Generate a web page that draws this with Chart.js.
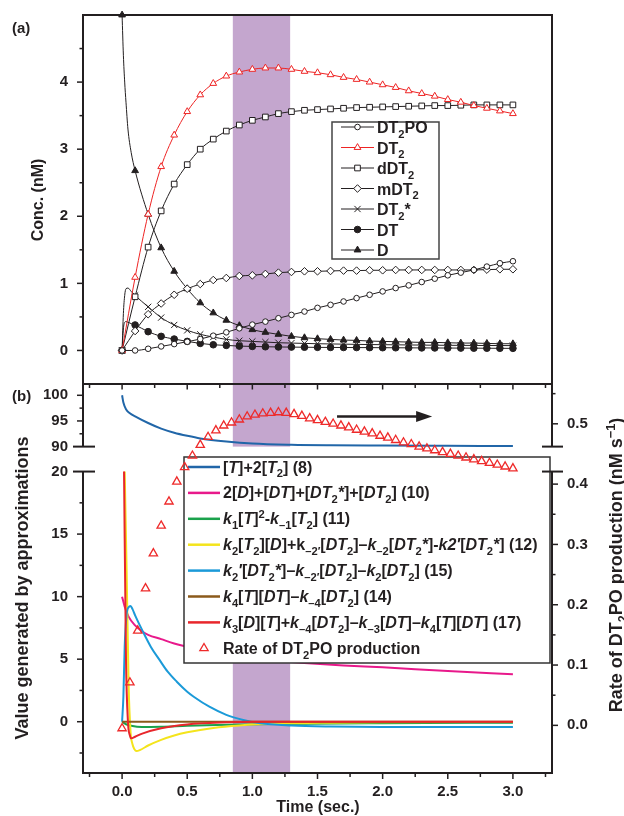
<!DOCTYPE html>
<html><head><meta charset="utf-8">
<script src="https://cdn.jsdelivr.net/npm/chart.js@4.4.1/dist/chart.umd.min.js"></script>
<style>
html,body{margin:0;padding:0;background:#fff;}
#wrap{position:relative;width:624px;height:816px;background:#fff;}
canvas{position:absolute;left:0;top:0;width:624px;height:816px;}
</style></head>
<body><div id="wrap"><canvas id="ca" width="624" height="816"></canvas><canvas id="cb" width="624" height="816"></canvas></div>
<script>
const FONT='"Liberation Sans", Arial, Helvetica, sans-serif';
const INK='#231f20';
const BAND='#c4a6ce';
Chart.defaults.font.family=FONT;

// ---------- panel (a) data ----------
const timeA=[0,0.1,0.2,0.3,0.4,0.5,0.6,0.7,0.8,0.9,1.0,1.1,1.2,1.3,1.4,1.5,1.6,1.7,1.8,1.9,2.0,2.1,2.2,2.3,2.4,2.5,2.6,2.7,2.8,2.9,3.0];
const dt2po=[0,0.0,0.025,0.06,0.095,0.13,0.17,0.22,0.27,0.33,0.385,0.43,0.48,0.53,0.58,0.635,0.68,0.73,0.78,0.83,0.88,0.93,0.97,1.02,1.07,1.12,1.16,1.20,1.25,1.30,1.33];
const dt2=[0,1.09,2.03,2.74,3.21,3.56,3.81,3.98,4.09,4.15,4.19,4.21,4.21,4.19,4.16,4.14,4.11,4.07,4.04,4.00,3.96,3.92,3.87,3.83,3.79,3.74,3.70,3.65,3.61,3.57,3.53];
const ddt2=[0,0.80,1.54,2.08,2.48,2.77,3.00,3.15,3.27,3.36,3.43,3.48,3.53,3.56,3.58,3.59,3.60,3.61,3.62,3.625,3.63,3.635,3.64,3.645,3.65,3.65,3.655,3.66,3.66,3.66,3.66];
const mdt2=[0,0.29,0.54,0.70,0.83,0.92,0.99,1.05,1.08,1.11,1.12,1.14,1.16,1.17,1.18,1.18,1.185,1.19,1.19,1.195,1.195,1.2,1.2,1.2,1.2,1.2,1.2,1.2,1.205,1.21,1.21];
const dt2star=[0,0.82,0.65,0.49,0.38,0.30,0.24,0.20,0.165,0.145,0.135,0.125,0.115,0.11,0.105,0.10,0.097,0.094,0.091,0.088,0.086,0.084,0.082,0.08,0.078,0.077,0.076,0.075,0.074,0.073,0.072];
const dt=[0,0.38,0.28,0.21,0.17,0.135,0.105,0.085,0.075,0.065,0.06,0.055,0.052,0.05,0.048,0.046,0.045,0.044,0.043,0.042,0.041,0.04,0.039,0.038,0.037,0.036,0.035,0.034,0.033,0.032,0.031];
const dConc=[5.0,2.68,2.03,1.53,1.18,0.92,0.71,0.56,0.45,0.37,0.31,0.27,0.24,0.21,0.19,0.175,0.165,0.155,0.15,0.14,0.135,0.13,0.125,0.12,0.12,0.115,0.11,0.11,0.105,0.10,0.10];
// extra early-time samples (curve only, no markers)
const timeEarly=[0.01,0.02,0.03,0.045,0.07];
const dEarly=[4.4,4.0,3.7,3.3,2.95];
const dt2starEarly=[0.55,0.82,0.92,0.93,0.88];
const dtEarly=[0.32,0.42,0.43,0.42,0.40];
const concTicks=[0,1,2,3,4];
const namesA=['DT_{2}PO','DT_{2}','dDT_{2}','mDT_{2}','DT_{2}*','DT','D'];

// ---------- panel (b) data ----------
const tBlue=[0,0.01,0.03,0.06,0.1,0.2,0.3,0.4,0.5,0.6,0.8,1.0,1.3,1.6,2.0,2.5,3.0];
const vBlue=[100,98.6,97.3,96.5,95.9,94.6,93.5,92.7,92.1,91.6,91.0,90.6,90.35,90.25,90.2,90.15,90.1];
const tMag=[0,0.02,0.05,0.1,0.15,0.2,0.3,0.4,0.5,0.6,0.8,1.0,1.2,1.4,1.7,2.0,2.5,3.0];
const vMag=[10,9.2,8.4,7.7,7.25,6.95,6.6,6.25,6.0,5.75,5.35,5.0,4.85,4.7,4.5,4.35,4.05,3.8];
const tGreen=[0,0.03,0.08,0.15,0.3,0.5,0.8,1.2,2.0,3.0];
const vGreen=[0,-0.2,-0.35,-0.42,-0.4,-0.33,-0.25,-0.18,-0.12,-0.08];
const tYellow=[0.02,0.035,0.05,0.065,0.08,0.095,0.11,0.14,0.2,0.3,0.4,0.5,0.7,0.9,1.2,1.6,2.0,3.0];
const vYellow=[20,12,3,-0.8,-1.8,-2.2,-2.35,-2.25,-1.9,-1.45,-1.1,-0.85,-0.5,-0.3,-0.15,-0.08,-0.05,-0.02];
const tLblue=[0,0.01,0.02,0.035,0.05,0.065,0.08,0.1,0.16,0.22,0.29,0.35,0.42,0.5,0.55,0.67,0.8,0.93,1.06,1.3,1.6,2.0,2.5,3.0];
const vLblue=[0,2,6,8.6,9.15,9.25,9.0,8.5,7.2,6.0,4.9,4.0,3.2,2.4,2.0,1.2,0.55,0.14,-0.13,-0.3,-0.38,-0.42,-0.43,-0.43];
const tBrown=[0,1,2,3];
const vBrown=[0,0,0,0];
const tRed=[0.015,0.03,0.045,0.06,0.07,0.1,0.16,0.3,0.5,0.8,1.0,1.5,2.0,3.0];
const vRed=[20,5,0,-1.1,-1.33,-1.2,-0.93,-0.52,-0.22,-0.05,0,0,0,0];
const tRate=[0,0.06,0.12,0.18,0.24,0.3,0.36,0.42,0.48,0.54,0.6,0.66,0.72,0.78,0.84,0.9,0.96,1.02,1.08,1.14,1.2,1.26,1.32,1.38,1.44,1.5,1.56,1.62,1.68,1.74,1.8,1.86,1.92,1.98,2.04,2.1,2.16,2.22,2.28,2.34,2.4,2.46,2.52,2.58,2.64,2.7,2.76,2.82,2.88,2.94,3.0];
const vRate=[-0.005,0.071,0.157,0.227,0.285,0.331,0.371,0.404,0.428,0.447,0.465,0.478,0.489,0.497,0.502,0.507,0.512,0.515,0.517,0.518,0.519,0.518,0.516,0.513,0.509,0.506,0.503,0.500,0.497,0.494,0.490,0.487,0.484,0.480,0.477,0.473,0.469,0.466,0.462,0.459,0.456,0.453,0.450,0.447,0.444,0.441,0.438,0.435,0.432,0.429,0.426];
const timeTicks=[0,0.5,1.0,1.5,2.0,2.5,3.0];
const upperTicks=[90,95,100];
const lowerTicks=[0,5,10,15,20];
const rateTicks=[0,0.1,0.2,0.3,0.4,0.5];
const namesB=['[|T|]+2[|T|_{2}] (8)','2[|D|]+[|DT|]+[|DT|_{2}|*|]+[|DT|_{2}] (10)','|k|_{1}[|T|]^{2}-|k|_{\u20131}[|T|_{2}] (11)','|k|_{2}[|T|_{2}][|D|]+k_{\u20132\u2032}[|DT|_{2}]\u2013|k|_{\u20132}[|DT|_{2}|*|]-|k2\u2032|[|DT|_{2}|*|] (12)','|k|_{2}|\u2032|[|DT|_{2}|*|]\u2013|k|_{\u20132\u2032}[|DT|_{2}]\u2013|k|_{2}[|DT|_{2}] (15)','|k|_{4}[|T|][|DT|]\u2013|k|_{\u20134}[|DT|_{2}] (14)','|k|_{3}[|D|][|T|]+|k|_{\u20134}[|DT|_{2}]\u2013|k|_{\u20133}[|DT|]\u2013|k|_{4}[|T|][|DT|] (17)','Rate of DT_{2}PO production'];
const bandStart=0.85, bandEnd=1.29;

// ---------- rich text helpers ----------
function parseRich(s){
  const segs=[];let it=false,mode=0,buf='';
  const push=()=>{if(buf){segs.push({t:buf,it:it,mode:mode});buf='';}};
  for(let i=0;i<s.length;i++){
    const c=s[i];
    if(c==='|'){push();it=!it;continue;}
    if((c==='_'||c==='^')&&s[i+1]==='{'){push();mode=c==='_'?1:2;i++;continue;}
    if(c==='}'&&mode){push();mode=0;continue;}
    buf+=c;
  }
  push();return segs;
}
function segFont(s,size){const sz=s.mode?size*0.7:size;return (s.it?'italic ':'')+'bold '+sz.toFixed(2)+'px '+FONT;}
function richWidth(ctx,segs,size){let w=0;for(const s of segs){ctx.font=segFont(s,size);w+=ctx.measureText(s.t).width;}return w;}
function drawRich(ctx,str,x,y,size,opt){
  opt=opt||{};
  const segs=parseRich(str);const w=richWidth(ctx,segs,size);
  let sx=1;if(opt.maxW&&w>opt.maxW)sx=opt.maxW/w;
  ctx.save();ctx.translate(x,y);if(opt.rot)ctx.rotate(opt.rot);ctx.scale(sx,1);
  let cx=opt.align==='center'?-w/2:0;
  ctx.fillStyle=opt.color||INK;ctx.textBaseline='alphabetic';ctx.textAlign='left';
  for(const s of segs){ctx.font=segFont(s,size);const dy=s.mode===1?size*0.3:(s.mode===2?-size*0.38:0);ctx.fillText(s.t,cx,dy);cx+=ctx.measureText(s.t).width;}
  ctx.restore();
}
function seg(ctx,x1,y1,x2,y2){ctx.beginPath();ctx.moveTo(x1,y1);ctx.lineTo(x2,y2);ctx.stroke();}

// ---------- panel (a) chart ----------
const styleA=[
 {ps:'circle',r:2.8,fill:'#fff',col:INK},
 {ps:'triangle',r:3.9,fill:'#fff',col:'#ee2424'},
 {ps:'rect',r:4.0,fill:'#fff',col:INK},
 {ps:'rectRot',r:3.8,fill:'#fff',col:INK},
 {ps:'crossRot',r:4.4,fill:INK,col:INK},
 {ps:'circle',r:3.3,fill:INK,col:INK},
 {ps:'triangle',r:3.9,fill:INK,col:INK}
];
const valsA=[dt2po,dt2,ddt2,mdt2,dt2star,dt,dConc];
const earlyA=[null,null,null,null,dt2starEarly,dtEarly,dEarly];
function buildPts(times,vals,et,ev){
  const p=times.map((t,i)=>({x:t,y:vals[i],m:1}));
  if(ev)et.forEach((t,i)=>p.push({x:t,y:ev[i],m:0}));
  p.sort((a,b)=>a.x-b.x);return p;
}
const dsA=valsA.map((v,i)=>({
  label:namesA[i],data:buildPts(timeA,v,timeEarly,earlyA[i]),
  borderColor:styleA[i].col,backgroundColor:styleA[i].fill,borderWidth:1,
  pointStyle:styleA[i].ps,pointRadius:c=>(c.raw&&c.raw.m)?styleA[i].r:0,
  pointBorderColor:styleA[i].col,pointBackgroundColor:styleA[i].fill,pointBorderWidth:1,
  cubicInterpolationMode:'monotone',clip:false
}));

const pluginA={id:'pa',
  beforeDatasetsDraw(chart){
    const {ctx,chartArea:a,scales:{x}}=chart;
    const x0=x.getPixelForValue(bandStart),x1=x.getPixelForValue(bandEnd);
    ctx.save();ctx.fillStyle=BAND;ctx.fillRect(x0,a.top,x1-x0,a.bottom-a.top);ctx.restore();
  },
  afterDraw(chart){
    const {ctx,chartArea:a,scales:{y}}=chart;
    ctx.save();ctx.strokeStyle=INK;ctx.lineWidth=2;
    ctx.strokeRect(a.left,a.top,a.right-a.left,a.bottom-a.top);
    ctx.lineWidth=1.5;
    for(let v=0;v<=4.5;v+=0.5){const py=y.getPixelForValue(v);const maj=Math.abs(v-Math.round(v))<1e-6;seg(ctx,a.left,py,a.left-(maj?6:3.5),py);}
    // legend
    const bx=332,by=122,bw=107,bh=137;
    ctx.fillStyle='#fff';ctx.fillRect(bx,by,bw,bh);ctx.strokeStyle='#444';ctx.lineWidth=1.5;ctx.strokeRect(bx,by,bw,bh);
    for(let i=0;i<namesA.length;i++){
      const ly=127+i*20.5,st=styleA[i];
      ctx.strokeStyle=st.col;ctx.lineWidth=1;seg(ctx,341,ly,374,ly);
      ctx.fillStyle=st.fill;ctx.strokeStyle=st.col;ctx.lineWidth=1;
      Chart.helpers.drawPoint(ctx,{pointStyle:st.ps,radius:st.r,rotation:0,borderWidth:1},357.5,ly);
      drawRich(ctx,namesA[i],377,ly+6,16);
    }
    drawRich(ctx,'(a)',12,33,15);
    drawRich(ctx,'Conc. (nM)',43,200,16,{rot:-Math.PI/2,align:'center'});
    ctx.restore();
  }
};

new Chart(document.getElementById('ca'),{
  type:'line',data:{datasets:dsA},
  options:{responsive:false,animation:false,devicePixelRatio:1,parsing:true,
    layout:{padding:{left:0,right:72,top:15,bottom:432}},
    plugins:{legend:{display:false},tooltip:{enabled:false}},
    scales:{
      x:{type:'linear',min:-0.3,max:3.3,display:false},
      y:{type:'linear',min:-0.5,max:5,grid:{display:false,drawTicks:true,tickLength:15},border:{display:false},
        afterFit:s=>{s.width=83;},
        afterBuildTicks:s=>{s.ticks=concTicks.map(v=>({value:v}));},
        ticks:{padding:0,color:INK,font:{size:15,weight:'bold',family:FONT},callback:v=>String(v)}}
    }
  },plugins:[pluginA]
});

// ---------- panel (b) chart ----------
const linesB=[
  {t:tBlue,v:vBlue,c:'#2166a8',ax:'yTop'},
  {t:tMag,v:vMag,c:'#e8198b',ax:'yBot'},
  {t:tGreen,v:vGreen,c:'#1ba24c',ax:'yBot'},
  {t:tYellow,v:vYellow,c:'#f4e41c',ax:'yBot'},
  {t:tLblue,v:vLblue,c:'#1b9ad8',ax:'yBot'},
  {t:tBrown,v:vBrown,c:'#8b5a1b',ax:'yBot'},
  {t:tRed,v:vRed,c:'#e8262b',ax:'yBot'}
];
const RATE_COL='#ee2a2a';
const dsB=[{label:'rate',data:tRate.map((t,i)=>({x:t,y:vRate[i]})),yAxisID:'yR',showLine:false,
  pointStyle:'triangle',pointRadius:4.8,pointBorderColor:RATE_COL,pointBackgroundColor:'rgba(255,255,255,0)',pointBorderWidth:1.3,borderColor:RATE_COL}];
for(let i=linesB.length-1;i>=0;i--){
  const L=linesB[i];
  dsB.push({label:'l'+i,data:L.t.map((t,j)=>({x:t,y:L.v[j]})),yAxisID:L.ax,borderColor:L.c,borderWidth:2,pointRadius:0,cubicInterpolationMode:'monotone'});
}

const pluginB={id:'pb',
  beforeDatasetsDraw(chart){
    const {ctx,chartArea:a,scales:{x,yTop,yBot}}=chart;
    const x0=x.getPixelForValue(bandStart),x1=x.getPixelForValue(bandEnd);
    const y90=yTop.getPixelForValue(90),y20=yBot.getPixelForValue(20);
    ctx.save();ctx.fillStyle=BAND;
    ctx.fillRect(x0,a.top,x1-x0,y90-a.top);
    ctx.fillRect(x0,y20,x1-x0,a.bottom-y20);
    ctx.restore();
  },
  beforeDatasetDraw(chart,args){
    if(args.index!==0)return;
    const ctx=chart.ctx;
    const bx=184,by=457,bw=366,bh=206;
    ctx.save();ctx.fillStyle='#fff';ctx.fillRect(bx,by,bw,bh);
    ctx.strokeStyle='#333';ctx.lineWidth=1.5;ctx.strokeRect(bx,by,bw,bh);
    for(let i=0;i<namesB.length;i++){
      const ly=467+i*25.9;
      if(i<linesB.length){ctx.strokeStyle=linesB[i].c;ctx.lineWidth=2.5;seg(ctx,188,ly,220,ly);}
      else{ctx.strokeStyle=RATE_COL;ctx.fillStyle='rgba(255,255,255,0)';ctx.lineWidth=1.3;
        Chart.helpers.drawPoint(ctx,{pointStyle:'triangle',radius:4.8,rotation:0,borderWidth:1.3},204,ly);}
      drawRich(ctx,namesB[i],223,ly+5.5,16,{maxW:325});
    }
    ctx.restore();
  },
  afterDraw(chart){
    const {ctx,chartArea:a,scales:{x,yTop,yBot,yR}}=chart;
    const y90=yTop.getPixelForValue(90),y20=yBot.getPixelForValue(20);
    ctx.save();ctx.strokeStyle=INK;ctx.lineWidth=2;
    seg(ctx,a.left,a.top,a.left,y90);seg(ctx,a.left,y20,a.left,a.bottom+1);
    seg(ctx,a.right,a.top,a.right,y90);seg(ctx,a.right,y20,a.right,a.bottom+1);
    seg(ctx,a.left-1,a.bottom,a.right+1,a.bottom);
    seg(ctx,a.left-1,a.top,a.right+1,a.top);
    [y90,y20].forEach(py=>{seg(ctx,a.left-10,py,a.left+12,py);seg(ctx,a.right-10,py,a.right+11,py);});
    ctx.lineWidth=1.5;
    // x ticks: top (panel a axis) and bottom
    for(let v=-0.25;v<=3.26;v+=0.25){const px=x.getPixelForValue(v);const maj=Math.abs(v*2-Math.round(v*2))<1e-6;
      seg(ctx,px,a.top,px,a.top+(maj?5.5:4));seg(ctx,px,a.bottom,px,a.bottom+(maj?6:4));}
    // left ticks
    for(let v=92.5;v<=100.01;v+=2.5){const py=yTop.getPixelForValue(v);const maj=Math.abs(v/5-Math.round(v/5))<1e-6;seg(ctx,a.left,py,a.left-(maj?6:3.5),py);}
    for(let v=-2.5;v<=17.51;v+=2.5){const py=yBot.getPixelForValue(v);const maj=Math.abs(v/5-Math.round(v/5))<1e-6;seg(ctx,a.left,py,a.left-(maj?6:3.5),py);}
    // right ticks
    for(let k=0;k<=11;k++){const v=k*0.05;const py=yR.getPixelForValue(v);if(py>y90-2&&py<y20+2)continue;seg(ctx,a.right,py,a.right+(k%2===0?6:3.5),py);}
    // upper axis labels
    ctx.fillStyle=INK;ctx.font='bold 15px '+FONT;ctx.textAlign='right';ctx.textBaseline='middle';
    upperTicks.forEach(v=>ctx.fillText(String(v),68,yTop.getPixelForValue(v)));
    // arrow
    const ay=yR.getPixelForValue(0.512),ax0=x.getPixelForValue(1.65),ax1=x.getPixelForValue(2.38);
    ctx.lineWidth=2.5;seg(ctx,ax0,ay,ax1-12,ay);
    ctx.fillStyle=INK;ctx.beginPath();ctx.moveTo(ax1,ay);ctx.lineTo(ax1-16,ay-5.5);ctx.lineTo(ax1-16,ay+5.5);ctx.closePath();ctx.fill();
    drawRich(ctx,'(b)',12,401,15);
    drawRich(ctx,'Value generated by approximations',28,588,18,{rot:-Math.PI/2,align:'center'});
    drawRich(ctx,'Rate of DT_{2}PO production (nM s^{\u22121})',622,565,18,{rot:-Math.PI/2,align:'center'});
    drawRich(ctx,'Time (sec.)',318,812,16,{align:'center'});
    ctx.restore();
  }
};

new Chart(document.getElementById('cb'),{
  type:'line',data:{datasets:dsB},
  options:{responsive:false,animation:false,devicePixelRatio:1,
    layout:{padding:{left:0,right:0,top:384,bottom:0}},
    plugins:{legend:{display:false},tooltip:{enabled:false}},
    scales:{
      x:{type:'linear',min:-0.3,max:3.3,grid:{display:false,drawTicks:false},border:{display:false},
        afterFit:s=>{s.height=43;},
        afterBuildTicks:s=>{s.ticks=timeTicks.map(v=>({value:v}));},
        ticks:{padding:10,maxRotation:0,autoSkip:false,color:INK,font:{size:15,weight:'bold',family:FONT},callback:v=>Number(v).toFixed(1)}},
      yTop:{type:'linear',position:'left',min:26.4,max:102.2,display:false},
      yBot:{type:'linear',position:'left',min:-4.1,max:27.0,grid:{display:false,drawTicks:false},border:{display:false},
        afterFit:s=>{s.width=83;},
        afterBuildTicks:s=>{s.ticks=lowerTicks.map(v=>({value:v}));},
        ticks:{padding:15,color:INK,font:{size:15,weight:'bold',family:FONT},callback:v=>String(v)}},
      yR:{type:'linear',position:'right',min:-0.079,max:0.566,grid:{display:false,drawTicks:false},border:{display:false},
        afterFit:s=>{s.width=72;},
        afterBuildTicks:s=>{s.ticks=rateTicks.map(v=>({value:v}));},
        ticks:{padding:15,color:INK,font:{size:15,weight:'bold',family:FONT},callback:v=>Number(v).toFixed(1)}}
    }
  },plugins:[pluginB]
});
</script>
</body></html>
